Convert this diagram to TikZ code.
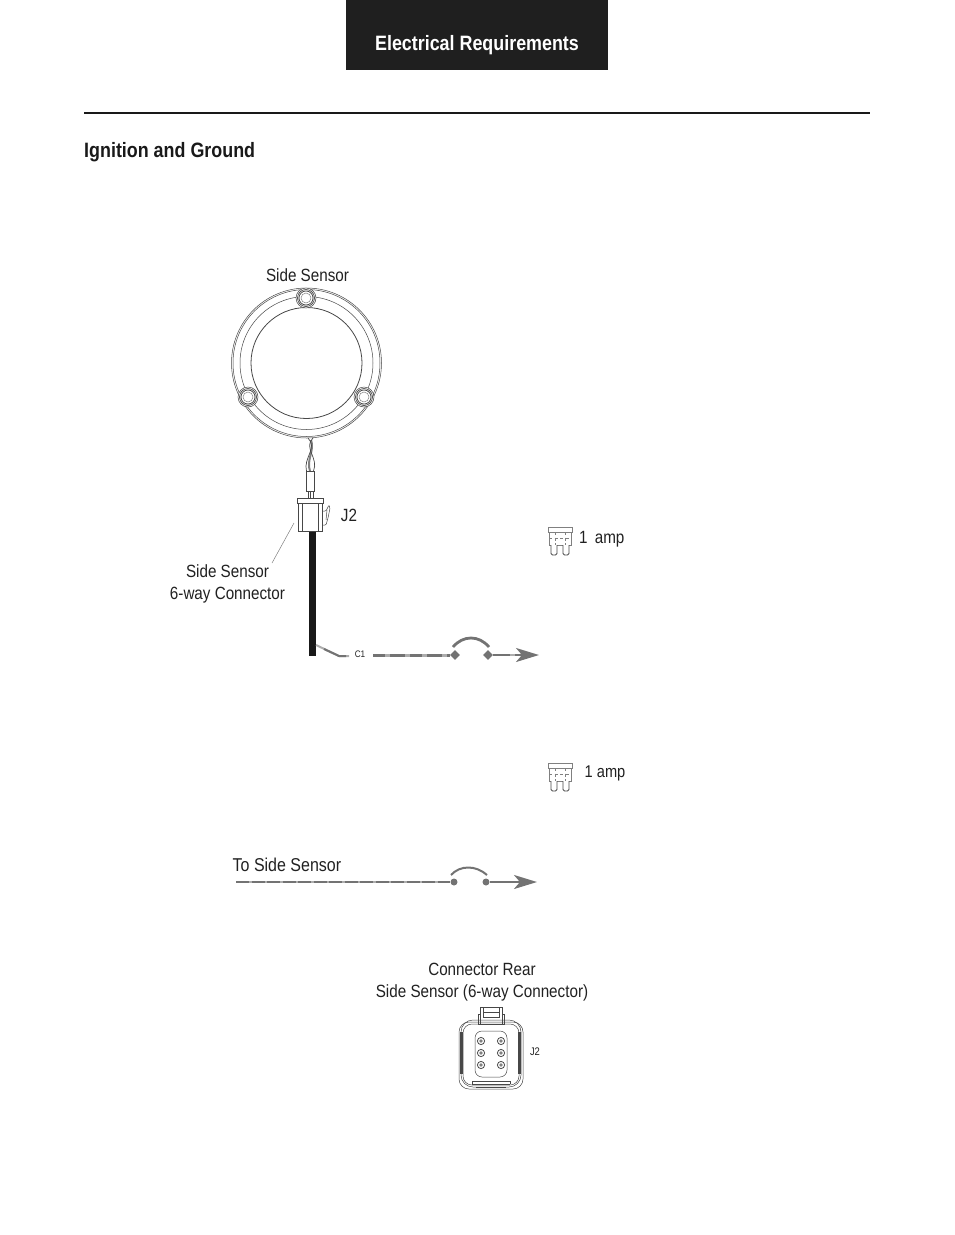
\documentclass[tikz,border=0pt]{standalone}
\usepackage{fontspec}
\setmainfont{Liberation Sans}
\newfontfamily\nar[FakeStretch=0.86]{Liberation Sans}
\usetikzlibrary{arrows.meta,shapes.geometric}
\definecolor{wire}{gray}{0.45}
\definecolor{wirel}{gray}{0.68}
\definecolor{txt}{gray}{0.13}
\definecolor{linec}{gray}{0.28}
\tikzset{
 lbl/.style={inner sep=0pt,text=txt,font=\nar\fontsize{17.7}{22}\selectfont,align=center},
 head/.style={inner sep=0pt,font=\nar\bfseries\fontsize{20.8}{24}\selectfont},
 tiny/.style={inner sep=0pt,text=txt,font=\nar\fontsize{9.5}{11}\selectfont},
 part/.style={draw=linec,line width=0.7pt,fill=white},
 thin/.style={draw=linec,line width=0.5pt},
 jump/.style={draw=wire,line width=2.8pt},
 tipd/.style={diamond,fill=wire,inner sep=0pt,minimum size=10pt},
 tipc/.style={circle,fill=wire,inner sep=0pt,minimum size=7pt},
 target/.style={wire,-{Stealth[length=23pt,width=14pt,inset=6pt]},line width=2.2pt},
}
\newcommand{\fusepart}[2]{%
 \begin{scope}[shift={(#1,#2)}]
  \draw[linec,line width=1.2pt] (0,0.5)--(24,0.5);
  \draw[draw=gray,line width=0.6pt] (0,0) rectangle (24,5);
  \draw[draw=gray,line width=0.6pt] (1,5)--(1,18)--(3,18) (21,18)--(23,18)--(23,5) (9,18)--(15,18);
  \draw[draw=gray,line width=0.5pt,dash pattern=on 3pt off 2.5pt] (7,5)--(7,18) (17,5)--(17,18) (1,11)--(23,11);
  \draw[linec,line width=0.9pt,rounded corners=1.5pt] (3,18)--(3,28)--(9,28)--(9,18);
  \draw[linec,line width=0.9pt,rounded corners=1.5pt] (15,18)--(15,28)--(21,28)--(21,18);
 \end{scope}}
\newcommand{\bolt}[2]{%
 \draw[part,line width=0.5pt] (#1,#2) circle (10);
 \draw[linec,line width=0.7pt] (#1,#2) circle (8.5) (#1,#2) circle (7);
 \draw[draw=gray,line width=0.5pt] (#1,#2) circle (5);}
\begin{document}
\begin{tikzpicture}[x=1pt,y=-1pt]
\useasboundingbox (0,0) rectangle (954,1235);
\fill[black!88] (346,0) rectangle (608,70);
\node[head,text=white] (title) at (477,45) {Electrical Requirements};
\draw[black!90,line width=1.5pt] (84,113)--(870,113);
\node[head,text=black!90,anchor=west] (sub) at (84,152) {Ignition and Ground};
% sensor
\node[lbl] (s1) at (307.5,275) {Side Sensor};
\draw[thin] (306.5,363) circle (75) (306.5,363) circle (73.5) (306.5,363) circle (66.5);
\draw[linec,line width=0.8pt] (306.5,363) circle (55.5);
\bolt{306}{298}
\bolt{248}{397}
\bolt{364}{397}
% twisted wires
\draw[gray,line width=2pt] (311,440) .. controls (315,450) and (306,460) .. (310,471);
\draw[linec,line width=0.7pt] (308,438) .. controls (318,448) and (303,458) .. (306.5,471);
\draw[linec,line width=0.7pt] (313,438) .. controls (303,448) and (319,458) .. (313.5,471);
\draw[linec,line width=0.6pt] (308,491)--(308,499) (310.5,491)--(310.5,499) (313,491)--(313,499);
\draw[part] (306,471) rectangle (314,491);
% connector
\fill[black!90] (309,531) rectangle (316,656);
\draw[part] (298.5,503) rectangle (322,531);
\draw[thin] (302,503)--(302,531) (318,503)--(318,531);
\draw[part] (297,498.5) rectangle (323,503);
\draw[thin,rounded corners=1pt] (322,511)--(326,511)--(329,505)--(330,508)--(328,518)--(326,525)--(322,525);
\draw[thin] (327,510)--(326,520);
\node[lbl] (j2) at (349,515) {J2};
\node[lbl] (s2) at (227.5,584) {Side Sensor\\6-way Connector};
\draw[draw=gray,line width=0.5pt] (294,523)--(272,563);
% C1 branch
\coordinate (b0) at (316,645);
\coordinate (b1) at (339,656);
\coordinate (b2) at (349,656);
\draw[wirel,line width=2pt] (b0)--(b1)--(b2);
\draw[wire,line width=2pt] (324,649)--(b1)--(346,656);
\node[tiny] (c1) at (360,654.5) {C1};
% line 1
\node[tipd] (d1) at (455,655) {};
\node[tipd] (d2) at (488,655) {};
\coordinate (w1) at (373,655);
\coordinate (a1) at (539,655);
\draw[wirel,line width=3pt] (w1)--(d1);
\draw[wire,line width=3pt,dash pattern=on 12pt off 5pt on 15pt off 5pt] (w1)--(d1);
\draw[jump] (453,647) .. controls (463,635) and (479,635) .. (489,647);
\draw[target] (d2)--(a1);
\draw[wirel,line width=2.2pt] (510,655)--(515,655);
% fuses
\fusepart{548}{527}
\node[lbl,anchor=west] (f1) at (579,539) {1\, amp};
\fusepart{548}{763}
\node[lbl,anchor=west,font=\nar\fontsize{17}{22}\selectfont] (f2) at (584.5,773) {1 amp};
% line 2
\node[lbl,anchor=west,font=\nar\fontsize{18.6}{24}\selectfont] (t2) at (232.5,865) {To Side Sensor};
\node[tipc] (e1) at (454,882) {};
\node[tipc] (e2) at (486,882) {};
\coordinate (w2) at (236,882);
\coordinate (a2) at (537,882);
\draw[wirel,line width=2pt] (w2)--(e1);
\draw[wire,line width=2pt,dash pattern=on 13pt off 2.5pt] (w2)--(e1);
\draw[jump,line width=2pt] (451,875) .. controls (460,865) and (476,865) .. (487,875);
\draw[target] (e2)--(a2);
% rear view
\node[lbl] (r1) at (482,982) {Connector Rear\\Side Sensor (6-way Connector)};
\begin{scope}[linec]
\draw[thin] (480,1022)--(480,1007)--(502,1007)--(502,1022);
\draw[thin] (483,1007)--(483,1017)--(499,1017)--(499,1007) (483,1012)--(499,1012);
\draw[line width=0.8pt] (478,1014) rectangle (480,1024) (502,1014) rectangle (504,1024);
\draw[thin,rounded corners=10pt] (459,1022) rectangle (523,1089);
\draw[thin,rounded corners=12pt] (461,1020) rectangle (521,1087);
\draw[thin,rounded corners=9pt] (463,1024) rectangle (519,1085);
\draw[line width=0.9pt] (478,1024)--(504,1024);
\draw[part,line width=1.2pt] (461,1033) rectangle (462.5,1073);
\draw[part,line width=1.2pt] (518.5,1033) rectangle (520,1073);
\draw[thin,rounded corners=7pt] (475,1031) rectangle (507,1077);
\draw[thin] (472,1081)--(510,1081) (472,1084)--(510,1084) (472,1081)--(472,1084) (510,1081)--(510,1084) (476,1087)--(506,1087);
\foreach \px in {481,501} \foreach \py in {1041,1053,1065} {
 \fill[gray] (\px,\py) circle (1.8);
 \draw[line width=0.8pt] (\px,\py) circle (3.6);
}
\end{scope}
\node[tiny,font=\nar\fontsize{11}{13}\selectfont] (j2b) at (535,1051.5) {J2};
\end{tikzpicture}
\end{document}
